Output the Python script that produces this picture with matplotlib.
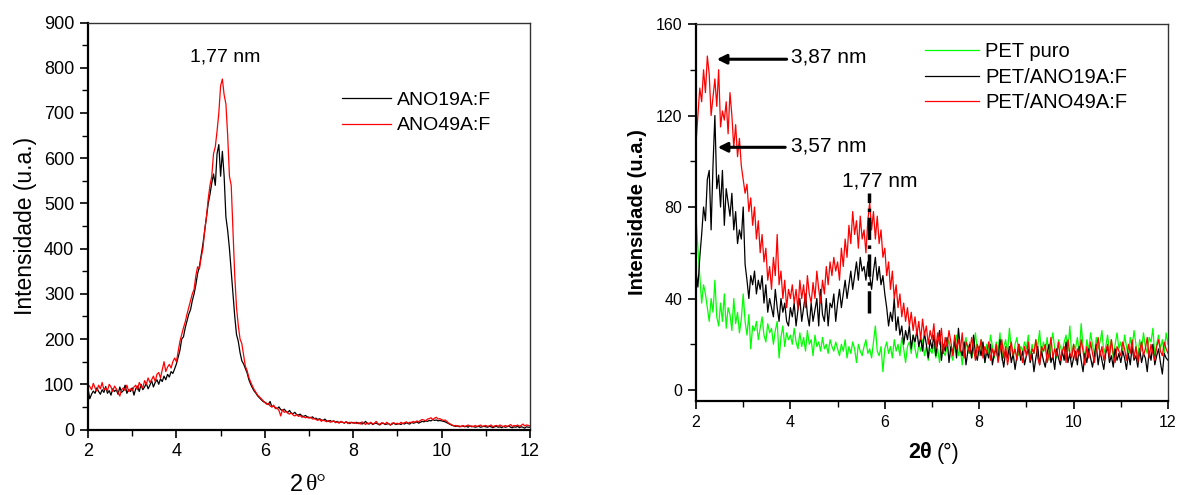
import numpy as np
import matplotlib
matplotlib.use("Agg")
import matplotlib.pyplot as plt
from matplotlib.ticker import MultipleLocator

plt.rcParams['font.family'] = ['Liberation Sans', 'DejaVu Sans']

# ---------------- data (2θ grid 2..12, step 0.04) ----------------
left_labels = ["ANO19A:F", "ANO49A:F"]
right_labels = ["PET puro", "PET/ANO19A:F", "PET/ANO49A:F"]

L_black = [
    90, 68, 78, 85, 80, 92, 84, 78, 88, 82, 95, 80, 86, 76, 90, 84, 88, 78, 94, 82, 86, 98, 80, 88, 84,
    92, 76, 90, 96, 84, 100, 88, 94, 102, 90, 98, 108, 94, 104, 110, 100, 112, 106, 118, 110, 122, 116, 128, 124, 134,
    145, 160, 175, 200, 205, 225, 240, 255, 265, 285, 300, 320, 345, 360, 385, 410, 440, 470, 500, 520, 545, 565, 540, 610, 630,
    560, 615, 560, 470, 440, 400, 350, 300, 250, 210, 195, 170, 152, 145, 135, 125, 110, 100, 92, 85, 80, 74, 70, 66, 62,
    60, 58, 55, 62, 50, 52, 48, 46, 50, 44, 42, 45, 40, 38, 42, 36, 35, 38, 33, 32, 34, 30, 29, 31, 28,
    27, 26, 28, 24, 25, 22, 24, 21, 20, 23, 19, 18, 20, 17, 19, 16, 18, 15, 17, 16, 14, 17, 15, 13, 16,
    15, 14, 16, 13, 15, 12, 14, 18, 13, 12, 15, 11, 13, 14, 12, 10, 13, 14, 11, 12, 13, 10, 12, 14, 11,
    12, 13, 11, 14, 12, 15, 13, 12, 16, 14, 15, 17, 14, 16, 18, 17, 19, 18, 20, 19, 22, 20, 21, 19, 20,
    19, 18, 17, 15, 13, 11, 9, 8, 7, 8, 6, 7, 8, 6, 7, 5, 8, 6, 7, 5, 6, 7, 5, 6, 7,
    6, 5, 7, 6, 4, 6, 7, 5, 6, 4, 7, 5, 6, 8, 5, 4, 6, 5, 7, 4, 6, 5, 3, 6, 5,
    5]

L_red = [
    100, 95, 88, 102, 92, 85, 98, 90, 104, 88, 92, 86, 100, 94, 84, 96, 90, 82, 74, 88, 92, 86, 98, 84, 90,
    86, 94, 98, 88, 104, 96, 92, 108, 100, 114, 104, 110, 118, 106, 122, 126, 114, 132, 150, 128, 138, 144, 136, 150, 158,
    150, 172, 195, 210, 225, 238, 255, 270, 285, 300, 310, 340, 360, 355, 380, 400, 440, 470, 510, 540, 560, 610, 625, 660, 700,
    760, 775, 740, 720, 650, 560, 540, 440, 340, 270, 230, 200, 190, 165, 140, 130, 115, 105, 96, 88, 82, 76, 72, 68, 64,
    60, 56, 58, 52, 50, 54, 46, 48, 42, 30, 44, 38, 40, 36, 34, 37, 32, 30, 33, 29, 31, 27, 28, 26, 27,
    25, 27, 23, 24, 22, 20, 23, 18, 21, 19, 17, 20, 16, 18, 19, 15, 17, 14, 18, 16, 15, 17, 13, 16, 15,
    14, 16, 13, 15, 12, 17, 14, 11, 15, 13, 16, 12, 14, 18, 13, 11, 15, 14, 12, 16, 13, 10, 14, 15, 12,
    14, 12, 16, 13, 15, 17, 14, 16, 15, 18, 16, 19, 17, 20, 22, 21, 19, 23, 24, 26, 22, 25, 27, 23, 24,
    22, 20, 21, 18, 14, 12, 10, 8, 9, 7, 8, 6, 9, 7, 8, 10, 7, 8, 6, 9, 7, 8, 10, 7, 8,
    9, 7, 8, 10, 6, 8, 9, 7, 10, 8, 6, 9, 7, 8, 11, 7, 9, 8, 10, 7, 9, 12, 8, 10, 9,
    8]

R_green = [
    76, 62, 50, 38, 46, 42, 36, 30, 40, 34, 48, 32, 28, 38, 30, 42, 27, 36, 33, 26, 40, 29, 34, 25, 31,
    42, 30, 24, 33, 18, 28, 26, 30, 22, 27, 32, 24, 21, 29, 25, 27, 20, 26, 30, 14, 23, 28, 19, 25, 22,
    24, 20, 27, 21, 18, 25, 19, 23, 17, 26, 20, 22, 15, 24, 19, 21, 17, 23, 18, 20, 16, 22, 19, 17, 21,
    18, 15, 20, 17, 22, 14, 19, 16, 21, 18, 12, 20, 17, 15, 19, 22, 16, 18, 14, 21, 28, 17, 15, 19, 8,
    18, 21, 16, 19, 14, 22, 17, 20, 15, 23, 18, 12, 19, 21, 16, 24, 18, 14, 20, 17, 22, 15, 19, 13, 18,
    16, 20, 14, 18, 12, 21, 17, 15, 19, 22, 16, 13, 20, 24, 15, 18, 11, 19, 23, 16, 21, 14, 18, 25, 17,
    15, 22, 18, 12, 20, 16, 24, 19, 14, 21, 17, 25, 13, 19, 22, 16, 27, 18, 14, 20, 23, 15, 19, 17, 21,
    18, 24, 14, 20, 16, 22, 19, 26, 15, 21, 17, 23, 13, 20, 25, 18, 14, 22, 19, 16, 21, 24, 17, 28, 15,
    20, 18, 23, 16, 29, 19, 14, 22, 17, 25, 20, 15, 23, 18, 21, 26, 16, 19, 24, 17, 22, 14, 20, 25, 18,
    21, 16, 24, 19, 15, 23, 18, 26, 20, 14, 22, 17, 25, 19, 16, 23, 21, 27, 15, 20, 24, 18, 22, 16, 25,
    20]

R_black = [
    52, 45, 58, 68, 80, 74, 92, 96, 70, 98, 120, 88, 94, 80, 96, 72, 88, 82, 76, 86, 70, 78, 64, 70, 66,
    80, 55, 48, 40, 50, 46, 52, 42, 48, 44, 50, 38, 46, 34, 40, 36, 32, 44, 36, 30, 40, 34, 38, 30, 28,
    36, 32, 38, 28, 35, 40, 30, 36, 42, 33, 28, 38, 30, 35, 40, 28, 44, 33, 30, 40, 28, 38, 36, 42, 30,
    38, 44, 36, 42, 48, 40, 46, 52, 44, 50, 56, 48, 58, 52, 54, 48, 56, 50, 44, 52, 58, 48, 54, 46, 50,
    42, 36, 28, 34, 30, 40, 26, 32, 24, 28, 20, 26, 22, 28, 18, 24, 21, 26, 19, 23, 17, 25, 20, 14, 22,
    18, 24, 15, 21, 26, 13, 20, 17, 23, 12, 19, 16, 22, 14, 27, 18, 15, 21, 11, 17, 20, 14, 24, 16, 13,
    19, 15, 21, 12, 17, 14, 20, 11, 16, 18, 13, 22, 15, 10, 17, 14, 19, 12, 16, 9, 15, 20, 13, 17, 11,
    15, 18, 12, 16, 8, 14, 19, 11, 17, 13, 10, 16, 20, 12, 15, 9, 18, 14, 11, 17, 13, 21, 12, 16, 10,
    14, 17, 11, 19, 13, 8, 16, 12, 18, 14, 10, 15, 20, 11, 17, 13, 9, 16, 19, 12, 15, 10, 18, 13, 16,
    12, 17, 14, 9, 16, 11, 19, 13, 15, 10, 18, 12, 16, 14, 8, 17, 13, 20, 11, 15, 18, 12, 7, 16, 14,
    13]

R_red = [
    108, 120, 132, 126, 140, 130, 146, 138, 120, 128, 136, 124, 140, 115, 122, 118, 126, 112, 130, 120, 106, 116, 102, 110, 98,
    92, 86, 90, 78, 84, 72, 80, 66, 74, 60, 68, 56, 62, 48, 54, 44, 58, 50, 68, 46, 52, 40, 48, 36, 44,
    40, 46, 38, 44, 35, 48, 40, 46, 36, 50, 42, 38, 47, 40, 52, 44, 38, 48, 42, 54, 46, 56, 50, 58, 52,
    56, 48, 62, 54, 66, 58, 72, 64, 78, 68, 74, 62, 76, 66, 70, 60, 74, 82, 70, 78, 66, 76, 64, 70, 58,
    62, 50, 56, 44, 52, 40, 46, 36, 42, 32, 38, 30, 36, 28, 34, 26, 32, 24, 30, 22, 31, 24, 28, 20, 26,
    22, 29, 18, 25, 20, 27, 16, 23, 19, 26, 21, 15, 24, 18, 22, 17, 25, 14, 21, 19, 16, 23, 18, 13, 20,
    17, 22, 14, 19, 16, 21, 13, 18, 15, 20, 12, 17, 22, 14, 19, 11, 16, 21, 15, 18, 13, 20, 16, 12, 19,
    15, 21, 13, 18, 16, 22, 14, 11, 19, 17, 20, 12, 16, 23, 14, 18, 15, 21, 13, 17, 19, 12, 22, 16, 14,
    20, 13, 18, 15, 22, 17, 11, 19, 14, 21, 16, 12, 18, 23, 15, 19, 13, 17, 20, 14, 22, 16, 12, 19, 17,
    15, 21, 18, 13, 20, 16, 22, 14, 19, 12, 17, 21, 15, 18, 23, 14, 20, 16, 13, 19, 22, 17, 15, 21, 18,
    16]

# annotations (peak labels)
left_peak_label = ("1,77 nm", 5.10, 823)
right_arrow_labels = [("3,87 nm", 4.01, 145.7, 2.44, 144.6, 3.92),
                      ("3,57 nm", 4.01, 106.6, 2.46, 106.1, 3.89)]
right_peak_label = ("1,77 nm", 5.09, 91.2)
peak_line_x = 5.67
peak_line_y = (33.7, 86.3)

W, H = 1179, 495
fig = plt.figure(figsize=(W / 100, H / 100), dpi=100)


def px_rect(l, t, r, b):
    return [l / W, 1 - b / H, (r - l) / W, (b - t) / H]


def style_axes(ax, tick_fs):
    for s in ['left', 'bottom']:
        ax.spines[s].set_linewidth(1.6)
    for s in ['top', 'right']:
        ax.spines[s].set_linewidth(1.0)
        ax.spines[s].set_color('#333333')
    ax.tick_params(which='major', direction='out', length=6, width=1.2,
                   labelsize=tick_fs, top=False, right=False, pad=4)
    ax.tick_params(which='minor', direction='out', length=4, width=1.0,
                   top=False, right=False)


# ---------------- left panel ----------------
axL = fig.add_axes(px_rect(88, 22.5, 530, 429.5))
xl = np.linspace(2, 12, len(L_black))
axL.plot(xl, L_black, color='black', lw=0.9, label=left_labels[0])
axL.plot(xl, L_red, color='#ff0000', lw=0.9, label=left_labels[1])
axL.set_xlim(2, 12)
axL.set_ylim(0, 900)
axL.xaxis.set_major_locator(MultipleLocator(2))
axL.xaxis.set_minor_locator(MultipleLocator(1))
axL.yaxis.set_major_locator(MultipleLocator(100))
axL.yaxis.set_minor_locator(MultipleLocator(50))
style_axes(axL, 13)
axL.set_ylabel("Intensidade (u.a.)", fontsize=16.5, labelpad=5)
axL.text(left_peak_label[1], left_peak_label[2], left_peak_label[0],
         fontsize=14, ha='center', va='center')
legL = axL.legend(loc='center left', bbox_to_anchor=(0.575, 0.778), frameon=False,
                  fontsize=14, handlelength=2.5, handletextpad=0.3,
                  borderpad=0, borderaxespad=0, labelspacing=0.4)
fig.text(303 / W, 1 - 485 / H, "2", fontsize=17, ha='right', va='center')
fig.text(306 / W, 1 - 485 / H, "θ°", fontsize=17, ha='left', va='center',
         family='Liberation Serif')

# ---------------- right panel ----------------
axR = fig.add_axes(px_rect(696, 24, 1168, 401))
xr = np.linspace(2, 12, len(R_green))
axR.plot(xr, R_green, color='#00ff00', lw=0.9, label=right_labels[0])
axR.plot(xr, R_black, color='black', lw=0.9, label=right_labels[1])
axR.plot(xr, R_red, color='#ff0000', lw=0.9, label=right_labels[2])
axR.set_xlim(2, 12)
axR.set_ylim(-4.8, 160)
axR.xaxis.set_major_locator(MultipleLocator(2))
axR.xaxis.set_minor_locator(MultipleLocator(1))
axR.yaxis.set_major_locator(MultipleLocator(40))
axR.yaxis.set_minor_locator(MultipleLocator(20))
style_axes(axR, 11.5)
axR.set_ylabel("Intensidade (u.a.)", fontsize=14.5, fontweight='bold', labelpad=6)

for txt, tx, ty, hx, hy, tailx in right_arrow_labels:
    axR.annotate("", xy=(hx, hy), xytext=(tailx, hy),
                 arrowprops=dict(arrowstyle='-|>', lw=2.2, color='black',
                                 mutation_scale=14, shrinkA=0, shrinkB=0))
    axR.text(tx, ty, txt, fontsize=15, ha='left', va='center')
axR.text(right_peak_label[1], right_peak_label[2], right_peak_label[0],
         fontsize=15, ha='left', va='center')
axR.plot([peak_line_x, peak_line_x], list(peak_line_y), color='black',
         lw=2.5, ls='-.')

legR = axR.legend(loc='center left', bbox_to_anchor=(0.485, 0.859), frameon=False,
                  fontsize=14.5, handlelength=2.7, handletextpad=0.3,
                  borderpad=0, borderaxespad=0, labelspacing=0.32)

fig.text(932 / W, 1 - 453 / H, "2θ", fontsize=15.5, fontweight='bold',
         ha='right', va='center')
fig.text(937 / W, 1 - 453 / H, "(°)", fontsize=15.5, ha='left', va='center')

fig.savefig("out.png", dpi=100)
